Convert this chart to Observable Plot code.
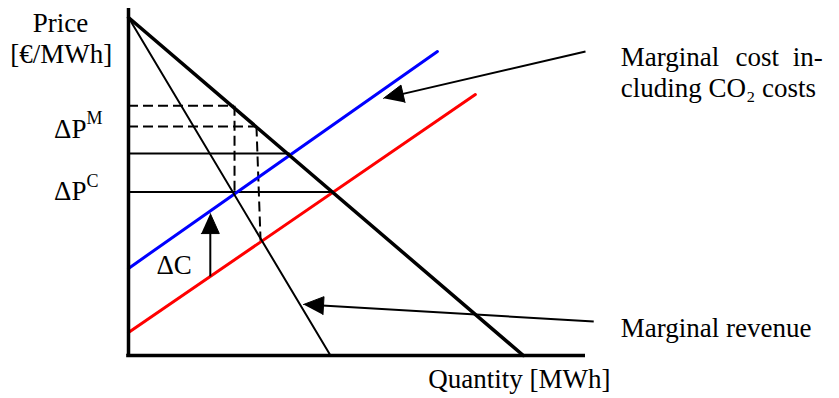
<!DOCTYPE html>
<html><head><meta charset="utf-8">
<script src="https://cdn.jsdelivr.net/npm/d3@7"></script>
<script src="https://cdn.jsdelivr.net/npm/@observablehq/plot@0.6"></script>
<style>body{margin:0;background:#fff}</style>
</head><body><div id="chart"></div>
<script>
// ---- data (abstract quantity / price units, 0..100) ----
const demand = [{q: 0, p: 97.4}, {q: 86.4, p: 0}];
const marginalRevenue = [{q: 0, p: 97.4}, {q: 44.2, p: 0}];
const mcWithCO2 = [{q: 0, p: 25.1}, {q: 67.6, p: 87.6}];
const mcWithoutCO2 = [{q: 0, p: 6.6}, {q: 75.9, p: 75.2}];
const priceLines = [{q: 35.4, p: 58.2}, {q: 44.9, p: 47.1}];
const dashedPrices = [{q: 23.2, p: 72.0}, {q: 28.0, p: 66.0}];
const dashedDrops = [{q1: 23.2, p1: 72.0, q2: 23.2, p2: 47.1}, {q1: 28.0, p1: 66.0, q2: 28.9, p2: 33.1}];
const arrows = [
  {id: "mc", q1: 100, p1: 87.6, q2: 55.8, p2: 74.1},
  {id: "mr", q1: 101.8, p1: 9.8, q2: 38.3, p2: 14.7},
  {id: "dc", q1: 17.9, p1: 22.8, q2: 17.9, p2: 40.9}
];
const labels = [
  {t: "Price", q: -14.9, p: 93.1, a: "middle", s: 27},
  {t: "[€/MWh]", q: -14.7, p: 84.4, a: "middle", s: 27},
  {t: "ΔP", q: -9.2, p: 62.8, a: "end", s: 27},
  {t: "M", q: -9.2, p: 66.6, a: "start", s: 18},
  {t: "ΔP", q: -9.2, p: 44.7, a: "end", s: 27},
  {t: "C", q: -9.2, p: 48.5, a: "start", s: 18},
  {t: "ΔC", q: 6.1, p: 23.6, a: "start", s: 27},
  {t: "Quantity [MWh]", q: 65.6, p: -9.5, a: "start", s: 27},
  {t: "Marginal revenue", q: 107.7, p: 5.2, a: "start", s: 27},
  {t: "Marginal", q: 107.7, p: 83.3, a: "start", s: 27},
  {t: "cost", q: 137.6, p: 83.3, a: "middle", s: 27},
  {t: "in-", q: 151.9, p: 83.3, a: "end", s: 27},
  {t: "cluding CO₂ costs", q: 107.7, p: 74.6, a: "start", s: 27}
];

// ---- layout ----
const W = 839, H = 398, mL = 128, mR = 254, mT = 8, mB = 43;
const kx = (W - mL - mR) / 100, ky = (H - mT - mB) / 100;
const headL = 20, headW = 9;

// arrowhead triangles computed from arrow data in pixel space
const heads = [];
const shafts = [];
for (const a of arrows) {
  const dx = (a.q2 - a.q1) * kx, dy = -(a.p2 - a.p1) * ky;
  const len = Math.hypot(dx, dy), ux = dx / len, uy = dy / len;
  const bx = -ux * headL, by = -uy * headL;
  const px = -uy * headW, py = ux * headW;
  const toQ = (x) => a.q2 + x / kx, toP = (y) => a.p2 - y / ky;
  heads.push({id: a.id, q: a.q2, p: a.p2});
  heads.push({id: a.id, q: toQ(bx + px), p: toP(by + py)});
  heads.push({id: a.id, q: toQ(bx - px), p: toP(by - py)});
  shafts.push({q1: a.q1, p1: a.p1, q2: toQ(bx * 0.5), p2: toP(by * 0.5)});
}

const textMarks = [];
for (const anchor of ["start", "middle", "end"]) {
  for (const size of [18, 27]) {
    const d = labels.filter(l => l.a === anchor && l.s === size);
    if (d.length) textMarks.push(Plot.text(d, {x: "q", y: "p", text: "t", textAnchor: anchor, lineAnchor: "bottom", fontSize: size, fill: "black"}));
  }
}

const chart = Plot.plot({
  width: W, height: H,
  marginLeft: mL, marginRight: mR, marginTop: mT, marginBottom: mB,
  x: {domain: [0, 100], axis: null},
  y: {domain: [0, 100], axis: null},
  style: {fontFamily: "'Liberation Serif', 'Times New Roman', serif", background: "white"},
  marks: [
    Plot.ruleY(priceLines, {y: "p", x1: 0, x2: "q", stroke: "black", strokeWidth: 2}),
    Plot.ruleY(dashedPrices, {y: "p", x1: 0, x2: "q", stroke: "black", strokeWidth: 2, strokeDasharray: "10,5"}),
    Plot.link(dashedDrops, {x1: "q1", y1: "p1", x2: "q2", y2: "p2", stroke: "black", strokeWidth: 2, strokeDasharray: "10,5"}),
    Plot.line(mcWithoutCO2, {x: "q", y: "p", stroke: "#ff0000", strokeWidth: 3}),
    Plot.line(mcWithCO2, {x: "q", y: "p", stroke: "#0000ff", strokeWidth: 3}),
    Plot.line(marginalRevenue, {x: "q", y: "p", stroke: "black", strokeWidth: 2}),
    Plot.line(demand, {x: "q", y: "p", stroke: "black", strokeWidth: 3.5}),
    Plot.link(shafts, {x1: "q1", y1: "p1", x2: "q2", y2: "p2", stroke: "black", strokeWidth: 2}),
    Plot.line(heads, {x: "q", y: "p", z: "id", fill: "black", stroke: "black", strokeWidth: 1}),
    Plot.ruleX([0], {y1: 0, y2: 100, stroke: "black", strokeWidth: 3.5}),
    Plot.ruleY([0], {x1: -0.4, x2: 100, stroke: "black", strokeWidth: 3.5}),
    ...textMarks
  ]
});
document.getElementById("chart").appendChild(chart);
</script></body></html>
